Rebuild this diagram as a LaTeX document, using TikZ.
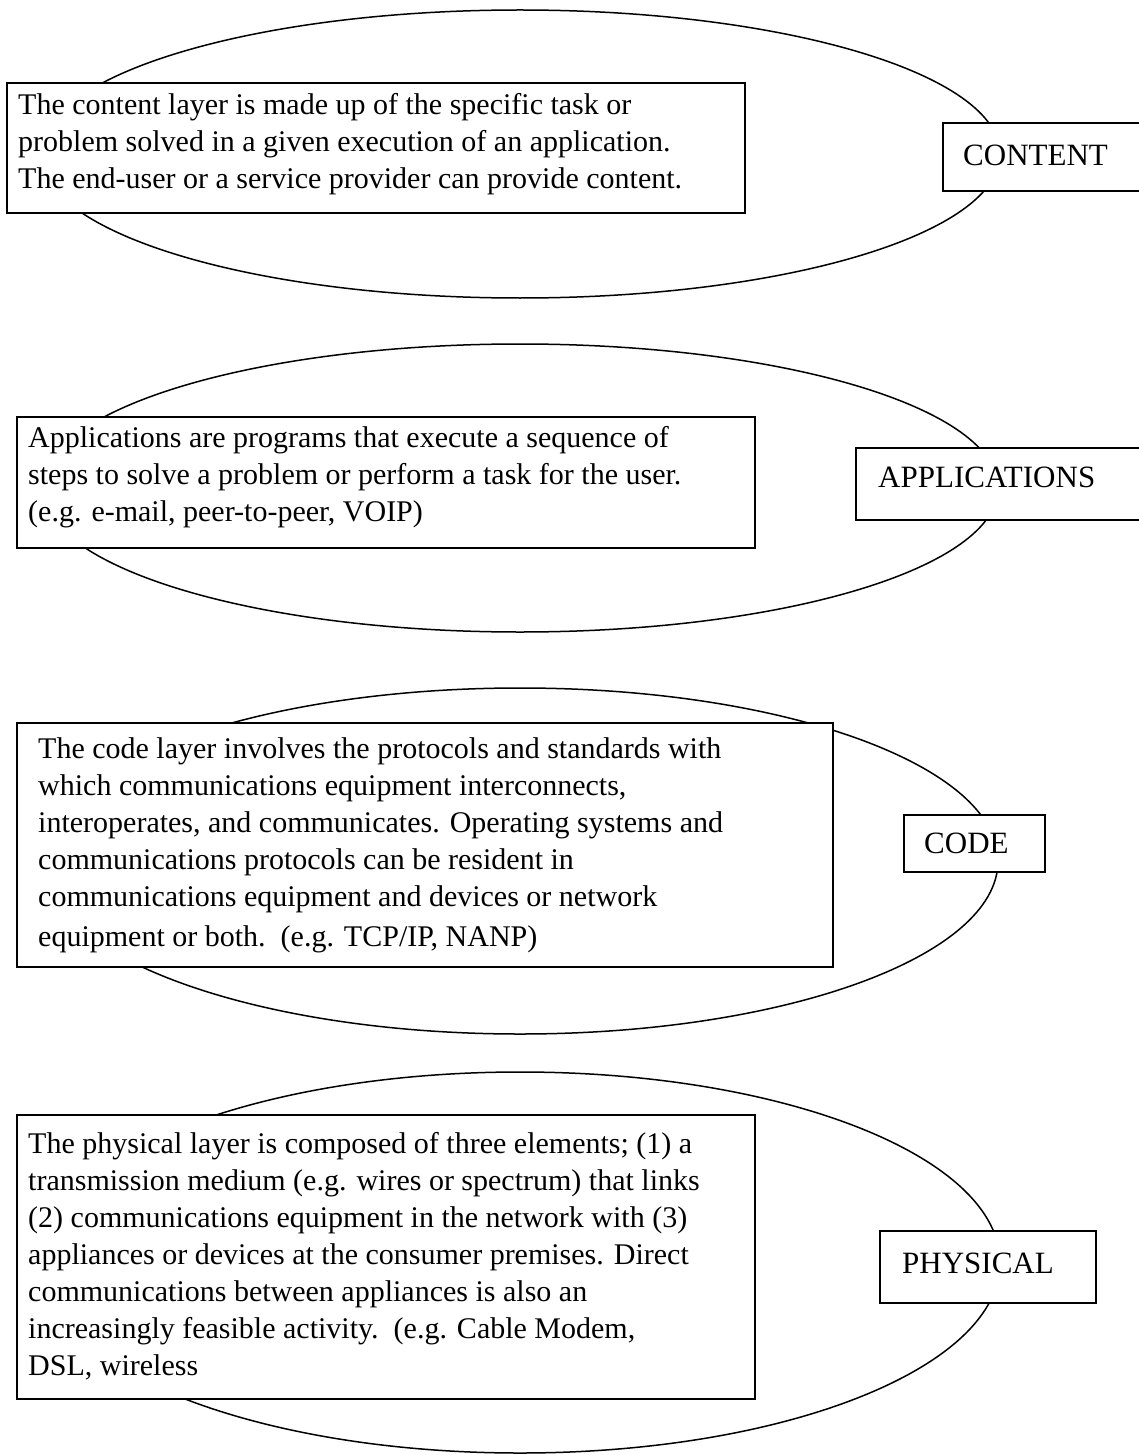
\documentclass[tikz,border=0pt]{standalone}
\usepackage{fontspec}
\setmainfont{Liberation Serif}
\usetikzlibrary{shapes.geometric}
\begin{document}
\begin{tikzpicture}[x=1pt,y=-1pt,
  layer/.style={draw, ellipse, line width=1.5pt, inner sep=0pt},
  descbox/.style={draw, rectangle, line width=1.9pt, fill=white, anchor=north west, inner sep=0pt},
  lblbox/.style={draw, rectangle, line width=1.9pt, fill=white, anchor=north west, inner sep=0pt},
  desctext/.style={anchor=base west, align=left, inner sep=0pt, font=\fontsize{30}{37}\selectfont},
  lbltext/.style={anchor=base west, inner sep=0pt, font=\fontsize{31}{37}\selectfont}]
\useasboundingbox (0,0) rectangle (1139,1455);
\clip (0,0) rectangle (1139,1455);
\fill[white] (0,0) rectangle (1139,1455);
% CONTENT
\node[layer, minimum width=960pt, minimum height=288pt] (e1) at (520,154) {};
\node[descbox, minimum width=738pt, minimum height=130pt] (b1) at (6,82) {};
\node[desctext] (t1) at (18,189) {The content layer is made up of the specific task or\\problem solved in a given execution of an application.\\The end-user or a service provider can provide content.};
\node[lblbox, minimum width=203pt, minimum height=68pt] (l1) at (942,122) {};
\node[lbltext] (lt1) at (963,166) {CONTENT};
% APPLICATIONS
\node[layer, minimum width=956pt, minimum height=288pt] (e2) at (520,488) {};
\node[descbox, minimum width=738pt, minimum height=131pt] (b2) at (16,416) {};
\node[desctext] (t2) at (28,521) {Applications are programs that execute a sequence of\\steps to solve a problem or perform a task for the user.\\(e.g. e-mail, peer-to-peer, VOIP)};
\node[lblbox, minimum width=290pt, minimum height=72pt] (l2) at (855,447) {};
\node[lbltext] (lt2) at (878,487) {APPLICATIONS};
% CODE
\node[layer, minimum width=956pt, minimum height=346pt] (e3) at (520,861) {};
\node[descbox, minimum width=816pt, minimum height=244pt] (b3) at (16,722) {};
\node[desctext] (t3) at (38,946) {The code layer involves the protocols and standards with\\which communications equipment interconnects,\\interoperates, and communicates. Operating systems and\\communications protocols can be resident in\\communications equipment and devices or network\\[3pt]equipment or both.\ \ (e.g. TCP/IP, NANP)};
\node[lblbox, minimum width=141pt, minimum height=57pt] (l3) at (903,814) {};
\node[lbltext] (lt3) at (924,853) {CODE};
% PHYSICAL
\node[layer, minimum width=960pt, minimum height=381pt] (e4) at (520,1262.5) {};
\node[descbox, minimum width=738pt, minimum height=284pt] (b4) at (16,1114) {};
\node[desctext] (t4) at (28,1375) {The physical layer is composed of three elements; (1) a\\transmission medium (e.g. wires or spectrum) that links\\(2) communications equipment in the network with (3)\\appliances or devices at the consumer premises. Direct\\communications between appliances is also an\\increasingly feasible activity.\ \ (e.g. Cable Modem,\\DSL, wireless};
\node[lblbox, minimum width=216pt, minimum height=72pt] (l4) at (879,1230) {};
\node[lbltext] (lt4) at (902,1273) {PHYSICAL};
\end{tikzpicture}
\end{document}
